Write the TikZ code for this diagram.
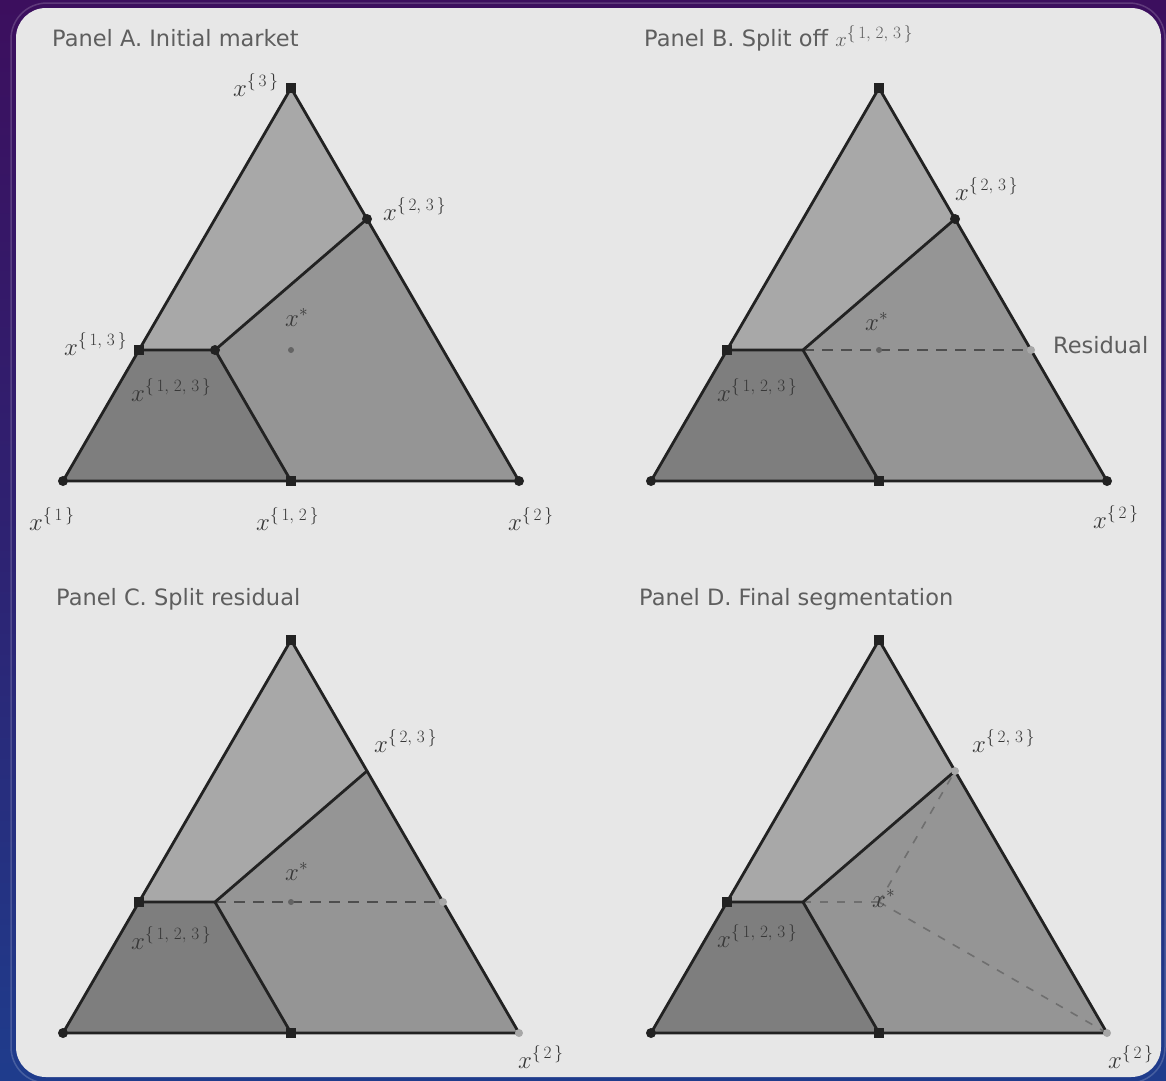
\documentclass[tikz,border=0pt]{standalone}
\usepackage{fontspec}
\setsansfont{DejaVu Sans}
\DeclareMathSizes{24}{24}{19}{14}
\DeclareMathSizes{22.5}{22.5}{18}{13}
\newcommand\mklab[1]{$x^{\{\,#1\,\}}$}
\definecolor{bgtop}{HTML}{3C0F5E}
\definecolor{bgmid}{HTML}{2E2272}
\definecolor{bgbot}{HTML}{1F3C8C}
\definecolor{paper}{HTML}{E7E7E7}
\definecolor{regtop}{HTML}{A8A8A8}
\definecolor{regright}{HTML}{959595}
\definecolor{regleft}{HTML}{7E7E7E}
\definecolor{ink}{HTML}{222222}
\definecolor{titlegray}{HTML}{5E5E5E}
\definecolor{labgray}{HTML}{383838}
\tikzset{
  edge/.style={draw=ink, line width=2.8pt, line join=round, line cap=round},
  dashline/.style={draw=ink!80, line width=1.7pt, dash pattern=on 11pt off 8pt},
  faintdash/.style={draw=ink!65, line width=1.6pt, dash pattern=on 8pt off 9pt},
  vdot/.style={fill=ink, circle, inner sep=0pt, minimum size=10pt},
  sqdot/.style={fill=ink, rectangle, inner sep=0pt, minimum size=10.5pt},
  ltdot/.style={fill=ink!40, circle, inner sep=0pt, minimum size=8pt},
  xdot/.style={fill=ink!70, circle, inner sep=0pt, minimum size=6pt},
  paneltitle/.style={font=\sffamily\fontsize{22.5}{26}\selectfont, text=titlegray, inner sep=0pt, anchor=base west},
  lab/.style={font=\fontsize{24}{28}\selectfont, text=labgray, inner sep=0pt, anchor=base west},
}
\newcommand\drawtri[3]{%
  \begin{scope}[shift={(#2,#3)}]
    \coordinate (#1T) at (291,88);
    \coordinate (#1L) at (63,481);
    \coordinate (#1R) at (519,481);
    \coordinate (#1M12) at (291,481);
    \coordinate (#1M13) at (139,350);
    \coordinate (#1M23) at (367,219);
    \coordinate (#1P) at (215,350);
    \coordinate (#1X) at (291,350);
    \coordinate (#1Res) at (443,350);
    \fill[regtop] (#1T) -- (#1M23) -- (#1P) -- (#1M13) -- cycle;
    \fill[regleft] (#1L) -- (#1M13) -- (#1P) -- (#1M12) -- cycle;
    \fill[regright] (#1M12) -- (#1P) -- (#1M23) -- (#1R) -- cycle;
  \end{scope}}
\newcommand\drawedges[1]{%
  \draw[edge] (#1L) -- (#1R) -- (#1T) -- cycle;
  \draw[edge] (#1M13) -- (#1P) -- (#1M23);
  \draw[edge] (#1P) -- (#1M12);}
\begin{document}
\begin{tikzpicture}[x=1pt,y=-1pt]
\useasboundingbox (0,0) rectangle (1166,1080);
% background
\shade[top color=bgtop, bottom color=bgbot, middle color=bgmid] (0,0) rectangle (1166,1080);
\draw[white, opacity=0.18, line width=1.5pt, rounded corners=36pt] (11,3) rectangle (1165,1083);
\fill[paper, rounded corners=30pt] (16,8) rectangle (1161,1077);

% ---------- Panel A ----------
\drawtri{a}{0}{0}
\drawedges{a}
\node[paneltitle] (tA) at (52,46) {Panel A. Initial market};
\node[sqdot] (aTd) at (aT) {};
\node[vdot] (aM23d) at (aM23) {};
\node[sqdot] (aM13d) at (aM13) {};
\node[vdot] (aPd) at (aP) {};
\node[vdot] (aLd) at (aL) {};
\node[sqdot] (aM12d) at (aM12) {};
\node[vdot] (aRd) at (aR) {};
\node[xdot] (aXd) at (aX) {};
\node[lab] (aL3) at (233,96) {\mklab{3}};
\node[lab] (aL23) at (383,220) {\mklab{2,\;3}};
\node[lab] (aL13) at (64,355) {\mklab{1,\;3}};
\node[lab] (aL123) at (131,401) {\mklab{1,\;2,\;3}};
\node[lab] (aL1) at (29,530) {\mklab{1}};
\node[lab] (aL12) at (256,530) {\mklab{1,\;2}};
\node[lab] (aL2) at (508,530) {\mklab{2}};
\node[lab] (aLx) at (285,326) {$x^{*}$};

% ---------- Panel B ----------
\drawtri{b}{588}{0}
\draw[dashline] (bP) -- (bRes);
\drawedges{b}
\node[paneltitle] (tB) at (644,46) {Panel B. Split off \mklab{1,\;2,\;3}};
\node[sqdot] (bTd) at (bT) {};
\node[vdot] (bM23d) at (bM23) {};
\node[sqdot] (bM13d) at (bM13) {};
\node[vdot] (bLd) at (bL) {};
\node[sqdot] (bM12d) at (bM12) {};
\node[vdot] (bRd) at (bR) {};
\node[xdot] (bXd) at (bX) {};
\node[ltdot] (bResd) at (bRes) {};
\node[lab] (bL23) at (955,200) {\mklab{2,\;3}};
\node[lab] (bL2) at (1093,528) {\mklab{2}};
\node[lab] (bL123) at (717,401) {\mklab{1,\;2,\;3}};
\node[lab] (bLx) at (865,330) {$x^{*}$};
\node[paneltitle] (bResl) at (1053,353) {Residual};

% ---------- Panel C ----------
\drawtri{c}{0}{552}
\draw[dashline] (cP) -- (cRes);
\drawedges{c}
\node[paneltitle] (tC) at (56,605) {Panel C. Split residual};
\node[sqdot] (cTd) at (cT) {};
\node[sqdot] (cM13d) at (cM13) {};
\node[vdot] (cLd) at (cL) {};
\node[sqdot] (cM12d) at (cM12) {};
\node[ltdot] (cRd) at (cR) {};
\node[ltdot] (cResd) at (cRes) {};
\node[xdot] (cXd) at (cX) {};
\node[lab] (cL23) at (374,752) {\mklab{2,\;3}};
\node[lab] (cL2) at (518,1068) {\mklab{2}};
\node[lab] (cL123) at (131,949) {\mklab{1,\;2,\;3}};
\node[lab] (cLx) at (285,880) {$x^{*}$};

% ---------- Panel D ----------
\drawtri{d}{588}{552}
\draw[faintdash] (dP) -- (dX);
\draw[faintdash] (dX) -- (dM23);
\draw[faintdash] (dX) -- (dR);
\drawedges{d}
\node[paneltitle] (tD) at (639,605) {Panel D. Final segmentation};
\node[sqdot] (dTd) at (dT) {};
\node[sqdot] (dM13d) at (dM13) {};
\node[vdot] (dLd) at (dL) {};
\node[sqdot] (dM12d) at (dM12) {};
\node[ltdot] (dRd) at (dR) {};
\node[ltdot] (dM23d) at (dM23) {};
\node[lab] (dL23) at (972,752) {\mklab{2,\;3}};
\node[lab] (dL2) at (1108,1068) {\mklab{2}};
\node[lab] (dL123) at (717,947) {\mklab{1,\;2,\;3}};
\node[lab] (dLx) at (872,907) {$x^{*}$};
\end{tikzpicture}
\end{document}
